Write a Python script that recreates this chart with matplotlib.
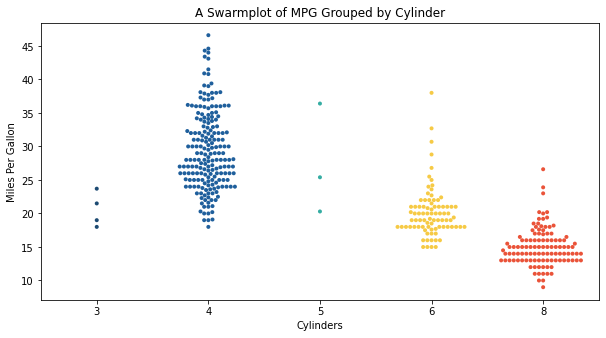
import matplotlib
matplotlib.use("Agg")
import matplotlib.pyplot as plt
import seaborn as sns
import pandas as pd

categories = ["3", "4", "5", "6", "8"]

mpg_3 = [18.0, 19.0, 21.5, 23.7]

mpg_4 = (
    [18.0]
    + [19.0, 19.0, 19.1]
    + [20.0, 20.0, 20.2, 20.3]
    + [21.0, 21.0, 21.1, 21.5]
    + [22.0, 22.0, 22.0, 22.3, 22.4, 21.6, 22.5]
    + [23.0, 23.0, 23.0, 23.0, 23.2, 23.5, 22.7, 23.6, 23.7]
    + [24.0] * 8 + [24.2, 24.3, 24.5, 23.9, 23.8, 24.6]
    + [25.0] * 8 + [25.1, 25.4, 25.5, 24.8, 25.8]
    + [26.0] * 11 + [26.4, 26.5, 26.6, 25.9, 26.8]
    + [27.0] * 9 + [27.2, 27.4, 27.5, 26.9, 27.9, 26.7]
    + [28.0] * 9 + [28.1, 28.4, 27.8, 28.8]
    + [29.0] * 5 + [29.5, 28.9, 29.8, 29.9]
    + [30.0] * 7 + [30.5, 29.7, 30.2, 30.7]
    + [31.0] * 6 + [31.3, 31.5, 31.6, 30.9]
    + [32.0] * 6 + [32.1, 32.2, 32.3, 32.4, 31.9]
    + [33.0, 33.0, 32.9, 32.8, 33.5, 33.7, 33.8]
    + [34.0, 34.0, 34.1, 34.2, 34.3, 34.4, 34.5, 34.7]
    + [35.0, 35.0, 35.1, 35.7, 34.8]
    + [36.0] * 5 + [36.1, 36.1, 36.1, 35.9, 36.2]
    + [37.0, 37.0, 37.2, 37.3, 37.7]
    + [38.0, 38.0, 38.1, 37.9, 38.1]
    + [39.0, 39.1, 39.4]
    + [40.8, 40.9, 41.5]
    + [43.1, 43.4, 44.0, 44.3, 44.6, 46.6]
)

mpg_5 = [20.3, 25.4, 36.4]

mpg_6 = (
    [38.0, 32.7, 30.7, 28.8, 26.8, 25.5, 25.0, 24.0, 24.2, 23.6, 23.0, 22.4, 22.7]
    + [22.0] * 5 + [21.5]
    + [21.0] * 10 + [20.6, 20.8]
    + [20.0] * 9 + [20.2]
    + [19.0] * 9 + [19.2, 19.4]
    + [18.6, 18.5]
    + [18.0] * 15
    + [17.5, 17.6, 17.7]
    + [17.0] * 3
    + [16.0] * 5
    + [15.0] * 4
)

mpg_8 = (
    [9.0] + [10.0] * 2 + [11.0] * 5 + [12.0] * 6
    + [13.0] * 20 + [14.0] * 19 + [14.5]
    + [15.0] * 16 + [15.5] * 2
    + [16.0] * 11 + [16.5] * 2 + [16.9]
    + [17.0] * 4 + [17.5] * 2 + [17.6]
    + [18.0] * 3 + [18.1, 18.2] + [18.5] * 2
    + [19.2] * 2 + [19.4]
    + [20.0] + [20.2] * 2
    + [23.0, 23.9, 26.6]
)

series = [mpg_3, mpg_4, mpg_5, mpg_6, mpg_8]
colors = ["#1c4a72", "#1f5f9c", "#35ada3", "#f6ca45", "#ea5339"]

rows = []
for cat, vals in zip(categories, series):
    for v in vals:
        rows.append((cat, v))
df = pd.DataFrame(rows, columns=["cylinders", "mpg"])

plt.rcParams["font.family"] = ["DejaVu Sans"]
fig, ax = plt.subplots(figsize=(10, 5), dpi=72)
sns.swarmplot(data=df, x="cylinders", y="mpg", order=categories,
              hue="cylinders", hue_order=categories,
              palette=dict(zip(categories, colors)), legend=False,
              size=4, linewidth=0, ax=ax)
ax.set_title("A Swarmplot of MPG Grouped by Cylinder", fontsize=12)
ax.set_xlabel("Cylinders", fontsize=10)
ax.set_ylabel("Miles Per Gallon", fontsize=10)
ax.set_yticks([10, 15, 20, 25, 30, 35, 40, 45])
fig.savefig("out.png", dpi=72, bbox_inches="tight")
